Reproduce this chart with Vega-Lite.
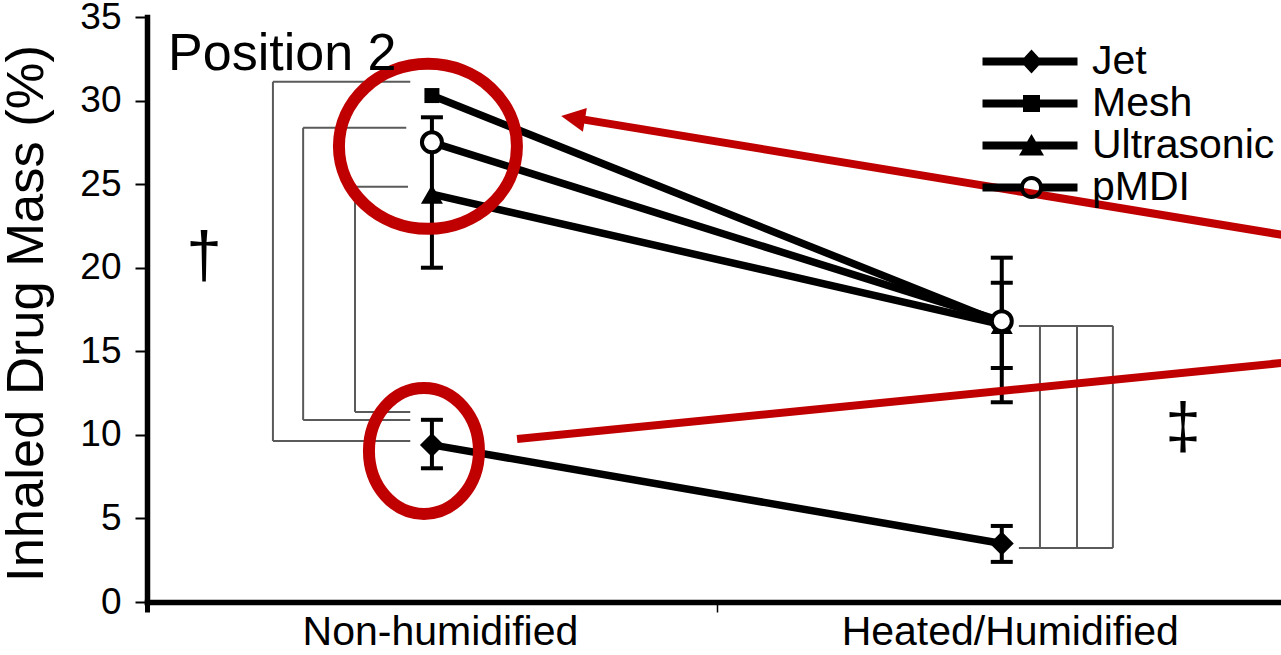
{
  "$schema": "https://vega.github.io/schema/vega-lite/v6.json",
  "width": 1134,
  "height": 585,
  "autosize": "none",
  "padding": {"left": 147, "top": 17, "right": 0, "bottom": 53},
  "background": "white",
  "config": {"font": "Liberation Sans", "view": {"stroke": null}, "axis": {"domainWidth": 5.5, "domainColor": "black", "domainCap": "square"}},
  "resolve": {"axis": {"x": "independent", "y": "independent"}},
  "datasets": {
    "points": [
      {"series": "Jet", "condition": "Non-humidified", "x": 1, "mean": 9.4, "lo": 8.0, "hi": 10.9},
      {"series": "Jet", "condition": "Heated/Humidified", "x": 2, "mean": 3.5, "lo": 2.4, "hi": 4.55},
      {"series": "Mesh", "condition": "Non-humidified", "x": 1, "mean": 30.3, "lo": null, "hi": null},
      {"series": "Mesh", "condition": "Heated/Humidified", "x": 2, "mean": 16.7, "lo": 14.0, "hi": 19.1},
      {"series": "Ultrasonic", "condition": "Non-humidified", "x": 1, "mean": 24.4, "lo": 20.0, "hi": 29.0},
      {"series": "Ultrasonic", "condition": "Heated/Humidified", "x": 2, "mean": 16.6, "lo": 11.95, "hi": 20.6},
      {"series": "pMDI", "condition": "Non-humidified", "x": 1, "mean": 27.5, "lo": null, "hi": null},
      {"series": "pMDI", "condition": "Heated/Humidified", "x": 2, "mean": 16.8, "lo": null, "hi": null}
    ],
    "brackets": [
      {"x1": 0.721, "x2": 0.721, "y1": 31.12, "y2": 9.63},
      {"x1": 0.721, "x2": 0.962, "y1": 31.12, "y2": 31.12},
      {"x1": 0.721, "x2": 0.962, "y1": 9.63, "y2": 9.63},
      {"x1": 0.774, "x2": 0.774, "y1": 28.37, "y2": 10.89},
      {"x1": 0.774, "x2": 0.955, "y1": 28.37, "y2": 28.37},
      {"x1": 0.774, "x2": 0.962, "y1": 10.89, "y2": 10.89},
      {"x1": 0.865, "x2": 0.865, "y1": 24.84, "y2": 11.37},
      {"x1": 0.865, "x2": 0.958, "y1": 24.84, "y2": 24.84},
      {"x1": 0.865, "x2": 0.962, "y1": 11.37, "y2": 11.37},
      {"x1": 2.03, "x2": 2.195, "y1": 16.52, "y2": 16.52},
      {"x1": 2.03, "x2": 2.195, "y1": 3.23, "y2": 3.23},
      {"x1": 2.067, "x2": 2.067, "y1": 16.52, "y2": 3.23},
      {"x1": 2.132, "x2": 2.132, "y1": 16.52, "y2": 3.23},
      {"x1": 2.195, "x2": 2.195, "y1": 16.52, "y2": 3.23}
    ],
    "redlines": [
      {"x1": 1.251, "y1": 28.95, "x2": 2.6, "y2": 21.36},
      {"x1": 1.1494, "y1": 9.75, "x2": 2.6, "y2": 14.67}
    ]
  },
  "layer": [
    {
      "data": {"name": "brackets"},
      "mark": {"type": "rule", "color": "#5a5a5a", "strokeWidth": 2},
      "encoding": {
        "x": {"field": "x1", "type": "quantitative", "scale": {"domain": [0.5, 2.49], "nice": false, "zero": false},
          "axis": {
            "values": [0.5, 1, 1.5, 2],
            "labelExpr": "datum.value == 1 ? 'Non-humidified' : datum.value == 2 ? 'Heated/Humidified' : ''",
            "title": null, "grid": false,
            "domainColor": "black", "domainWidth": 5.5,
            "tickColor": "black", "tickSize": 10,
            "tickWidth": {"condition": {"test": "datum.value == 0.5", "value": 5}, "value": 1.5},
            "tickOpacity": {"condition": {"test": "datum.value == 1 || datum.value == 2", "value": 0}, "value": 1},
            "labelFontSize": 41, "labelColor": "black", "labelPadding": 0, "labelOffset": 8, "labelLimit": 0,
            "labelFlush": false, "labelOverlap": false
          }},
        "x2": {"field": "x2"},
        "y": {"field": "y1", "type": "quantitative", "scale": {"domain": [0, 35], "nice": false, "zero": false},
          "axis": {
            "values": [0, 5, 10, 15, 20, 25, 30, 35],
            "title": "Inhaled Drug Mass (%)", "titleFontSize": 52.5, "titleFontWeight": "normal", "titleColor": "black",
            "titleX": -105, "titleY": 296, "titleBaseline": "alphabetic", "titleAngle": -90, "titleLimit": 0,
            "grid": false, "domainColor": "black", "domainWidth": 5.5,
            "tickColor": "black", "tickSize": 12, "tickWidth": 2,
            "labelFontSize": 37, "labelColor": "black", "labelPadding": 14
          }},
        "y2": {"field": "y2"}
      }
    },
    {
      "mark": {"type": "rule", "color": "black", "strokeWidth": 4.5},
      "encoding": {"y": {"datum": 35, "type": "quantitative", "scale": {"domain": [0, 35], "nice": false, "zero": false}, "axis": null}}
    },
    {
      "data": {"name": "points"},
      "mark": {"type": "errorbar", "ticks": {"color": "black", "opacity": 1}, "rule": {"color": "black", "opacity": 1}, "size": 22, "thickness": 4, "color": "black"},
      "encoding": {
        "x": {"field": "x", "type": "quantitative", "scale": {"domain": [0.5, 2.49], "nice": false, "zero": false}, "axis": null},
        "y": {"field": "lo", "type": "quantitative", "scale": {"domain": [0, 35], "nice": false, "zero": false}, "axis": null},
        "y2": {"field": "hi"}
      }
    },
    {
      "data": {"name": "points"},
      "mark": {"type": "line", "color": "black", "strokeWidth": 7.5},
      "encoding": {
        "x": {"field": "x", "type": "quantitative", "scale": {"domain": [0.5, 2.49], "nice": false, "zero": false}, "axis": null},
        "y": {"field": "mean", "type": "quantitative", "scale": {"domain": [0, 35], "nice": false, "zero": false}, "axis": null},
        "detail": {"field": "series", "type": "nominal"}
      }
    },
    {
      "data": {"name": "points"},
      "transform": [{"filter": "datum.series == 'Jet'"}],
      "mark": {"type": "point", "shape": "diamond", "filled": true, "color": "black", "opacity": 1, "size": 576},
      "encoding": {
        "x": {"field": "x", "type": "quantitative", "scale": {"domain": [0.5, 2.49], "nice": false, "zero": false}, "axis": null},
        "y": {"field": "mean", "type": "quantitative", "scale": {"domain": [0, 35], "nice": false, "zero": false}, "axis": null}
      }
    },
    {
      "data": {"name": "points"},
      "transform": [{"filter": "datum.series == 'Mesh'"}],
      "mark": {"type": "point", "shape": "square", "filled": true, "color": "black", "opacity": 1, "size": 225},
      "encoding": {
        "x": {"field": "x", "type": "quantitative", "scale": {"domain": [0.5, 2.49], "nice": false, "zero": false}, "axis": null},
        "y": {"field": "mean", "type": "quantitative", "scale": {"domain": [0, 35], "nice": false, "zero": false}, "axis": null}
      }
    },
    {
      "data": {"name": "points"},
      "transform": [{"filter": "datum.series == 'Ultrasonic'"}],
      "mark": {"type": "point", "shape": "triangle-up", "filled": true, "color": "black", "opacity": 1, "size": 484},
      "encoding": {
        "x": {"field": "x", "type": "quantitative", "scale": {"domain": [0.5, 2.49], "nice": false, "zero": false}, "axis": null},
        "y": {"field": "mean", "type": "quantitative", "scale": {"domain": [0, 35], "nice": false, "zero": false}, "axis": null}
      }
    },
    {
      "data": {"name": "points"},
      "transform": [{"filter": "datum.series == 'pMDI'"}],
      "mark": {"type": "point", "shape": "circle", "filled": false, "fill": "white", "fillOpacity": 1, "stroke": "black", "strokeWidth": 4, "opacity": 1, "size": 400},
      "encoding": {
        "x": {"field": "x", "type": "quantitative", "scale": {"domain": [0.5, 2.49], "nice": false, "zero": false}, "axis": null},
        "y": {"field": "mean", "type": "quantitative", "scale": {"domain": [0, 35], "nice": false, "zero": false}, "axis": null}
      }
    },
    {
      "data": {"values": [{"x": 0.993, "y": 27.26}]},
      "mark": {"type": "point", "shape": "M-1,0A1,0.927 0 1,1 1,0A1,0.927 0 1,1 -1,0Z", "filled": false, "color": "#c00000", "strokeWidth": 12, "opacity": 1, "size": 31684},
      "encoding": {
        "x": {"field": "x", "type": "quantitative", "scale": {"domain": [0.5, 2.49], "nice": false, "zero": false}, "axis": null},
        "y": {"field": "y", "type": "quantitative", "scale": {"domain": [0, 35], "nice": false, "zero": false}, "axis": null}
      }
    },
    {
      "data": {"values": [{"x": 0.986, "y": 9.04}]},
      "mark": {"type": "point", "shape": "M-1,0A1,1.145 0 1,1 1,0A1,1.145 0 1,1 -1,0Z", "filled": false, "color": "#c00000", "strokeWidth": 12, "opacity": 1, "size": 12100},
      "encoding": {
        "x": {"field": "x", "type": "quantitative", "scale": {"domain": [0.5, 2.49], "nice": false, "zero": false}, "axis": null},
        "y": {"field": "y", "type": "quantitative", "scale": {"domain": [0, 35], "nice": false, "zero": false}, "axis": null}
      }
    },
    {
      "data": {"name": "redlines"},
      "mark": {"type": "rule", "color": "#c00000", "strokeWidth": 8},
      "encoding": {
        "x": {"field": "x1", "type": "quantitative", "scale": {"domain": [0.5, 2.49], "nice": false, "zero": false}, "axis": null},
        "x2": {"field": "x2"},
        "y": {"field": "y1", "type": "quantitative", "scale": {"domain": [0, 35], "nice": false, "zero": false}, "axis": null},
        "y2": {"field": "y2"}
      }
    },
    {
      "data": {"values": [{"x": 1.2476, "y": 28.96}]},
      "mark": {"type": "point", "shape": "M-1,0L1,-1L1,1Z", "filled": true, "color": "#c00000", "opacity": 1, "size": 576, "angle": 9.4},
      "encoding": {
        "x": {"field": "x", "type": "quantitative", "scale": {"domain": [0.5, 2.49], "nice": false, "zero": false}, "axis": null},
        "y": {"field": "y", "type": "quantitative", "scale": {"domain": [0, 35], "nice": false, "zero": false}, "axis": null}
      }
    },
    {
      "data": {"values": [{"x": 0.537, "y": 31.84, "label": "Position 2"}]},
      "mark": {"type": "text", "align": "left", "baseline": "alphabetic", "fontSize": 52, "color": "black"},
      "encoding": {
        "x": {"field": "x", "type": "quantitative", "scale": {"domain": [0.5, 2.49], "nice": false, "zero": false}, "axis": null},
        "y": {"field": "y", "type": "quantitative", "scale": {"domain": [0, 35], "nice": false, "zero": false}, "axis": null},
        "text": {"field": "label"}
      }
    },
    {
      "data": {"values": [{"x": 0.6, "y": 20.59, "label": "†"}, {"x": 2.318, "y": 10.35, "label": "‡"}]},
      "mark": {"type": "text", "align": "center", "baseline": "middle", "fontSize": 64, "color": "black"},
      "encoding": {
        "x": {"field": "x", "type": "quantitative", "scale": {"domain": [0.5, 2.49], "nice": false, "zero": false}, "axis": null},
        "y": {"field": "y", "type": "quantitative", "scale": {"domain": [0, 35], "nice": false, "zero": false}, "axis": null},
        "text": {"field": "label"}
      }
    },
    {
      "data": {"name": "points"},
      "transform": [{"filter": "datum.x == 1"}],
      "mark": {"type": "point", "filled": true, "color": "black", "opacity": 0, "size": 400},
      "encoding": {
        "x": {"field": "x", "type": "quantitative", "scale": {"domain": [0.5, 2.49], "nice": false, "zero": false}, "axis": null},
        "y": {"field": "mean", "type": "quantitative", "scale": {"domain": [0, 35], "nice": false, "zero": false}, "axis": null},
        "shape": {
          "field": "series", "type": "nominal",
          "scale": {
            "domain": ["Jet", "Mesh", "Ultrasonic", "pMDI"],
            "range": [
              "M-4.9,-0.4H4.6V0.4H-4.9Z M0,-1.2L1.1,0L0,1.2L-1.1,0Z",
              "M-4.9,-0.4H4.6V0.4H-4.9Z M-0.85,-0.85H0.85V0.85H-0.85Z",
              "M-4.9,-0.4H4.6V0.4H-4.9Z M0,-1.15L1.25,1.0H-1.25Z",
              "M-4.9,-0.4H-1.0V0.4H-4.9Z M1.0,-0.4H4.6V0.4H1.0Z M-1.15,0A1.15,1.15 0 1,1 1.15,0A1.15,1.15 0 1,1 -1.15,0Z M-0.75,0A0.75,0.75 0 1,0 0.75,0A0.75,0.75 0 1,0 -0.75,0Z"
            ]
          },
          "legend": {
            "title": null, "orient": "none", "legendX": 864, "legendY": 24,
            "labelFontSize": 41, "labelColor": "black", "labelOffset": 40, "labelLimit": 0,
            "symbolSize": 400, "symbolFillColor": "black", "symbolStrokeColor": "black", "symbolStrokeWidth": 0, "symbolOpacity": 1,
            "rowPadding": 0, "padding": 0,
            "encode": {"symbols": {"update": {"opacity": {"value": 1}, "fill": {"value": "black"}, "strokeWidth": {"value": 0}}}}
          }
        }
      }
    }
  ]
}
